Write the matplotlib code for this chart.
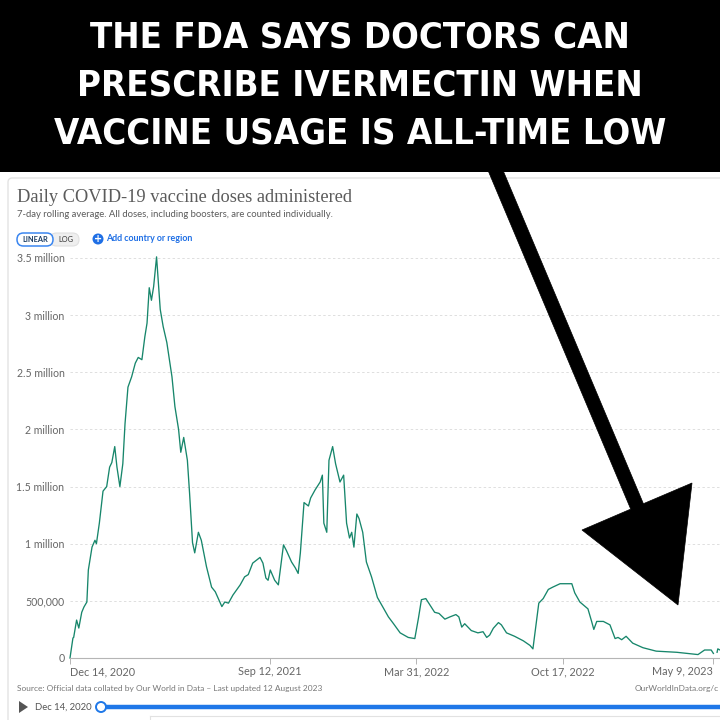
import numpy as np
import matplotlib
matplotlib.use("Agg")
import matplotlib.pyplot as plt
from matplotlib import font_manager as fm
from matplotlib.patches import Polygon, FancyBboxPatch, Circle, Rectangle
from matplotlib.lines import Line2D

# days since Dec 14, 2020 and 7-day average doses
days = [0, 4, 5, 9, 12, 16, 19, 23, 25, 30, 34, 36, 40, 45, 50, 54, 57, 61, 64, 68,
        72, 75, 79, 84, 89, 93, 98, 102, 105, 108, 111, 114, 118, 123, 127, 132, 139,
        143, 148, 151, 155, 160, 163, 167, 170, 175, 179, 186, 193, 198, 207, 211, 216,
        222, 232, 238, 243, 249, 259, 263, 267, 270, 273, 279, 284, 291, 295, 302, 307,
        311, 314, 319, 325, 328, 334, 341, 344, 346, 350, 353, 358, 362, 368, 373, 377,
        381, 384, 387, 391, 394, 399, 404, 411, 419, 427, 434, 441, 450, 461, 470, 475,
        479, 485, 493, 497, 503, 511, 518, 526, 530, 534, 538, 547, 556, 563, 568, 572,
        577, 584, 588, 595, 606, 618, 627, 631, 635, 639, 645, 652, 658, 668, 677, 684,
        688, 695, 706, 711, 714, 718, 727, 736, 743, 747, 752, 758, 767, 781, 799, 827,
        856, 865, 874, 877, 879, 882, 883, 886]
doses = [0, 175e3, 180e3, 332e3, 262e3, 400e3, 446e3, 490e3, 770e3, 970e3, 1030e3,
         1000e3, 1180e3, 1460e3, 1500e3, 1670e3, 1710e3, 1850e3, 1670e3, 1500e3, 1700e3,
         2050e3, 2370e3, 2460e3, 2580e3, 2630e3, 2610e3, 2810e3, 2930e3, 3240e3, 3130e3,
         3250e3, 3510e3, 3050e3, 2900e3, 2760e3, 2460e3, 2200e3, 2000e3, 1800e3, 1930e3,
         1730e3, 1440e3, 1010e3, 920e3, 1100e3, 1030e3, 800e3, 620e3, 580e3, 450e3,
         490e3, 480e3, 550e3, 640e3, 710e3, 730e3, 830e3, 880e3, 830e3, 700e3, 680e3,
         770e3, 680e3, 640e3, 990e3, 940e3, 840e3, 790e3, 740e3, 920e3, 1360e3, 1330e3,
         1400e3, 1470e3, 1540e3, 1600e3, 1180e3, 1100e3, 1730e3, 1850e3, 1700e3, 1540e3,
         1600e3, 1180e3, 1050e3, 1100e3, 970e3, 1260e3, 1220e3, 1100e3, 840e3, 710e3,
         530e3, 440e3, 360e3, 300e3, 220e3, 180e3, 170e3, 350e3, 510e3, 520e3, 440e3,
         400e3, 390e3, 340e3, 360e3, 380e3, 360e3, 270e3, 300e3, 240e3, 220e3, 230e3,
         180e3, 200e3, 260e3, 310e3, 290e3, 220e3, 190e3, 150e3, 110e3, 80e3, 280e3,
         480e3, 520e3, 600e3, 620e3, 650e3, 650e3, 650e3, 570e3, 490e3, 430e3, 320e3,
         250e3, 320e3, 320e3, 290e3, 170e3, 180e3, 160e3, 190e3, 130e3, 90e3, 60e3,
         50e3, 30e3, 70e3, 70e3, 40e3, np.nan, 50e3, 80e3, 70e3]

tick_days = [0, 272, 472, 672, 876]
tick_labels = ["Dec 14, 2020", "Sep 12, 2021", "Mar 31, 2022", "Oct 17, 2022", "May 9, 2023"]
y_ticks = [0, 500000, 1000000, 1500000, 2000000, 2500000, 3000000, 3500000]
y_labels = ["0", "500,000", "1 million", "1.5 million", "2 million", "2.5 million",
            "3 million", "3.5 million"]

headline = ["THE FDA SAYS DOCTORS CAN", "PRESCRIBE IVERMECTIN WHEN",
            "VACCINE USAGE IS ALL-TIME LOW"]

# headline font: a condensed bold face if one is installed, else plain bold
head_fp = None
for f in fm.fontManager.ttflist:
    if f.stretch == "condensed" and f.weight in (700, "bold") and f.style == "normal":
        head_fp = fm.FontProperties(fname=f.fname, size=26.2)
        break
if head_fp is None:
    head_fp = fm.FontProperties(family="Liberation Sans", weight="bold", size=24)

sans = ["Lato", "DejaVu Sans"]
serif = ["Liberation Serif", "DejaVu Serif"]

W = 720.0
def fx(x):
    return x / W
def fy(y):
    return 1 - y / W

fig = plt.figure(figsize=(7.2, 7.2), dpi=100)
fig.patch.set_facecolor("white")

# white card behind the chart
card = FancyBboxPatch((fx(8), fy(740)), fx(740), 562 / W, boxstyle="round,pad=0,rounding_size=0.006",
                      transform=fig.transFigure, facecolor="white", edgecolor="#e3e3e3",
                      linewidth=1, zorder=-1)
fig.patches.append(card)

# black banner with headline
fig.patches.append(Rectangle((0, fy(172)), 1, 172 / W, transform=fig.transFigure,
                             facecolor="black", edgecolor="none", zorder=1))
for i, line in enumerate(headline):
    fig.text(0.5, fy(38 + 47.5 * i), line, ha="center", va="center", color="white",
             fontproperties=head_fp, zorder=2)

# chart header
fig.text(fx(17), fy(198), "Daily COVID-19 vaccine doses administered", family=serif,
         fontsize=13.2, color="#5b5b5b", va="center")
fig.text(fx(17), fy(214), "7-day rolling average. All doses, including boosters, are counted individually.",
         family=sans, fontsize=6.8, color="#5b5b5b", va="center")

fig.patches.append(FancyBboxPatch((fx(50), fy(246)), fx(29), 13 / W,
                                  boxstyle="round,pad=0,rounding_size=0.009",
                                  transform=fig.transFigure, facecolor="#efefef",
                                  edgecolor="#e0e0e0", linewidth=0.8))
fig.patches.append(FancyBboxPatch((fx(17), fy(246)), fx(36), 13 / W,
                                  boxstyle="round,pad=0,rounding_size=0.009",
                                  transform=fig.transFigure, facecolor="white",
                                  edgecolor="#3b86f0", linewidth=1.1))
fig.text(fx(35), fy(239.5), "LINEAR", family=sans, fontsize=5.3, color="#1d3d63",
         fontweight="bold", ha="center", va="center")
fig.text(fx(66), fy(239.5), "LOG", family=sans, fontsize=5.3, color="#333333",
         ha="center", va="center")
fig.patches.append(Circle((fx(98), fy(239)), 5.5 / W, transform=fig.transFigure,
                          facecolor="#1f6fe5", edgecolor="none"))
fig.text(fx(98), fy(239.5), "+", family="DejaVu Sans", fontsize=7, fontweight="bold",
         color="white", ha="center", va="center")
fig.text(fx(106), fy(239), "Add country or region", family=sans, fontsize=6.4,
         fontweight="bold", color="#1f6fe5", va="center")

# main chart
ax = fig.add_axes([fx(70), fy(658), fx(650), 400 / W])
ax.set_facecolor("none")
ax.plot(days, doses, color="#17866b", linewidth=0.95, clip_on=False)
ax.set_xlim(0, 886)
ax.set_ylim(0, 3500000)
ax.set_yticks(y_ticks)
ax.set_yticklabels(y_labels)
ax.set_xticks(tick_days)
ax.set_xticklabels(tick_labels)
for s in ["left", "top", "right"]:
    ax.spines[s].set_visible(False)
ax.spines["bottom"].set_color("#b5b5b5")
ax.spines["bottom"].set_linewidth(0.8)
ax.yaxis.grid(True, linestyle=(0, (2.5, 2.5)), color="#dedede", linewidth=0.7)
ax.set_axisbelow(True)
ax.tick_params(axis="y", length=0, pad=4, labelsize=7.6, labelcolor="#666666")
ax.tick_params(axis="x", length=4, width=0.7, color="#b5b5b5", pad=2,
               labelsize=7.8, labelcolor="#666666")
for lab in ax.get_yticklabels() + ax.get_xticklabels():
    lab.set_family(sans)
xl = ax.get_xticklabels()
xl[0].set_ha("left")
xl[-1].set_ha("right")

# footer
fig.text(fx(17), fy(688), "Source: Official data collated by Our World in Data – Last updated 12 August 2023",
         family=sans, fontsize=6.0, color="#777777", va="center")
fig.text(fx(719), fy(688), "OurWorldInData.org/c", family=sans,
         fontsize=6.0, color="#777777", va="center", ha="right")

# timeline slider
fig.patches.append(Polygon([(fx(19), fy(701)), (fx(19), fy(713)), (fx(28), fy(707))],
                           closed=True, transform=fig.transFigure, facecolor="#555555",
                           edgecolor="none"))
fig.text(fx(35), fy(707), "Dec 14, 2020", family=sans, fontsize=6.8, color="#555555", va="center")
fig.lines.append(Line2D([fx(101), 1], [fy(707), fy(707)], transform=fig.transFigure,
                        color="#1f78e8", linewidth=3.2, solid_capstyle="butt"))
fig.patches.append(Circle((fx(101), fy(707)), 5 / W, transform=fig.transFigure,
                          facecolor="white", edgecolor="#1f78e8", linewidth=1.4, zorder=3))
fig.lines.append(Line2D([fx(150), 1], [fy(716), fy(716)], transform=fig.transFigure,
                        color="#e2e2e2", linewidth=0.8))
fig.lines.append(Line2D([fx(150), fx(150)], [fy(716), 0], transform=fig.transFigure,
                        color="#e2e2e2", linewidth=0.8))

# big black arrow
arrow = [(487, 168), (630.7, 509.1), (582, 530), (678, 605), (692, 483),
         (643.4, 503.7), (502, 168)]
fig.patches.append(Polygon([(fx(a), fy(b)) for a, b in arrow], closed=True,
                           transform=fig.transFigure, facecolor="black",
                           edgecolor="black", linewidth=0.5, zorder=6))

fig.savefig("out.png", dpi=100, facecolor="white")
